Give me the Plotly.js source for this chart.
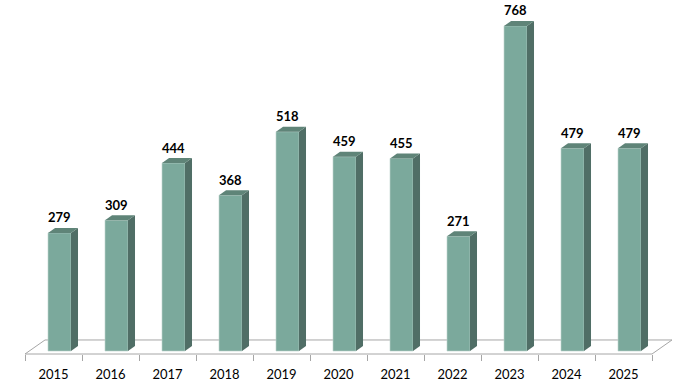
<!DOCTYPE html>
<html><head><meta charset="utf-8">
<script src="https://cdn.plot.ly/plotly-3.0.1.min.js"></script>
<style>html,body{margin:0;padding:0;background:#fff}#chart{width:678px;height:389px}</style>
</head><body><div id="chart"></div>
<script>
const years = ["2015","2016","2017","2018","2019","2020","2021","2022","2023","2024","2025"];
const counts = [279, 309, 444, 368, 518, 459, 455, 271, 768, 479, 479];

const FRONT = "#7BA99C", SIDE = "#506E66", TOP = "#5F8478";
const OFF = -0.096, W = 0.403;      // front face position within category
const DX = 0.123, DY = 11.8;        // 3D depth (x in category units, y in value units)
const YMIN = -7.09, YMAX = 829.4;

const shapes = [];
// floor (paper coordinates)
shapes.push({type:"path", xref:"paper", yref:"paper", layer:"below",
  path:"M0,0 L1,0 L1.0319,0.0396 L0.0319,0.0396 Z",
  fillcolor:"#ffffff", line:{color:"#a6a6a6", width:1}});
counts.forEach((v, i) => {
  const xl = i + OFF, xr = i + OFF + W;
  shapes.push({type:"path", xref:"x", yref:"y", layer:"above",
    path:`M${xr},0 L${xr},${v} L${xr+DX},${v+DY} L${xr+DX},${DY} Z`,
    fillcolor:SIDE, line:{width:0}});
  shapes.push({type:"path", xref:"x", yref:"y", layer:"above",
    path:`M${xl},${v} L${xr},${v} L${xr+DX},${v+DY} L${xl+DX},${v+DY} Z`,
    fillcolor:TOP, line:{width:0}});
});

const annotations = counts.map((v, i) => ({
  x: i + OFF + W/2, y: v + DY/2, xref:"x", yref:"y", text:String(v),
  showarrow:false, yanchor:"bottom", yshift:3,
  font:{family:"Lato, 'Liberation Sans', sans-serif", size:13, color:"#000", weight:"bold"}
}));

const trace = {type:"bar", x: years, y: counts, width: W, offset: OFF,
  marker:{color:FRONT, line:{color:"#b9d0c9", width:0.6}}, hoverinfo:"skip"};

Plotly.newPlot("chart", [trace], {
  width:678, height:389,
  margin:{l:25, r:26, t:0, b:35},
  paper_bgcolor:"#fff", plot_bgcolor:"rgba(0,0,0,0)",
  showlegend:false,
  xaxis:{type:"category", range:[-0.5, 10.5], tickson:"boundaries", ticks:"outside",
    ticklen:6, tickcolor:"#a6a6a6", tickwidth:1, showgrid:false, showline:false, zeroline:false,
    tickfont:{family:"Lato, 'Liberation Sans', sans-serif", size:13, color:"#000"}, ticklabelstandoff:11},
  yaxis:{range:[YMIN, YMAX], visible:false, showgrid:false, zeroline:false},
  shapes, annotations
}, {staticPlot:true});
</script></body></html>
